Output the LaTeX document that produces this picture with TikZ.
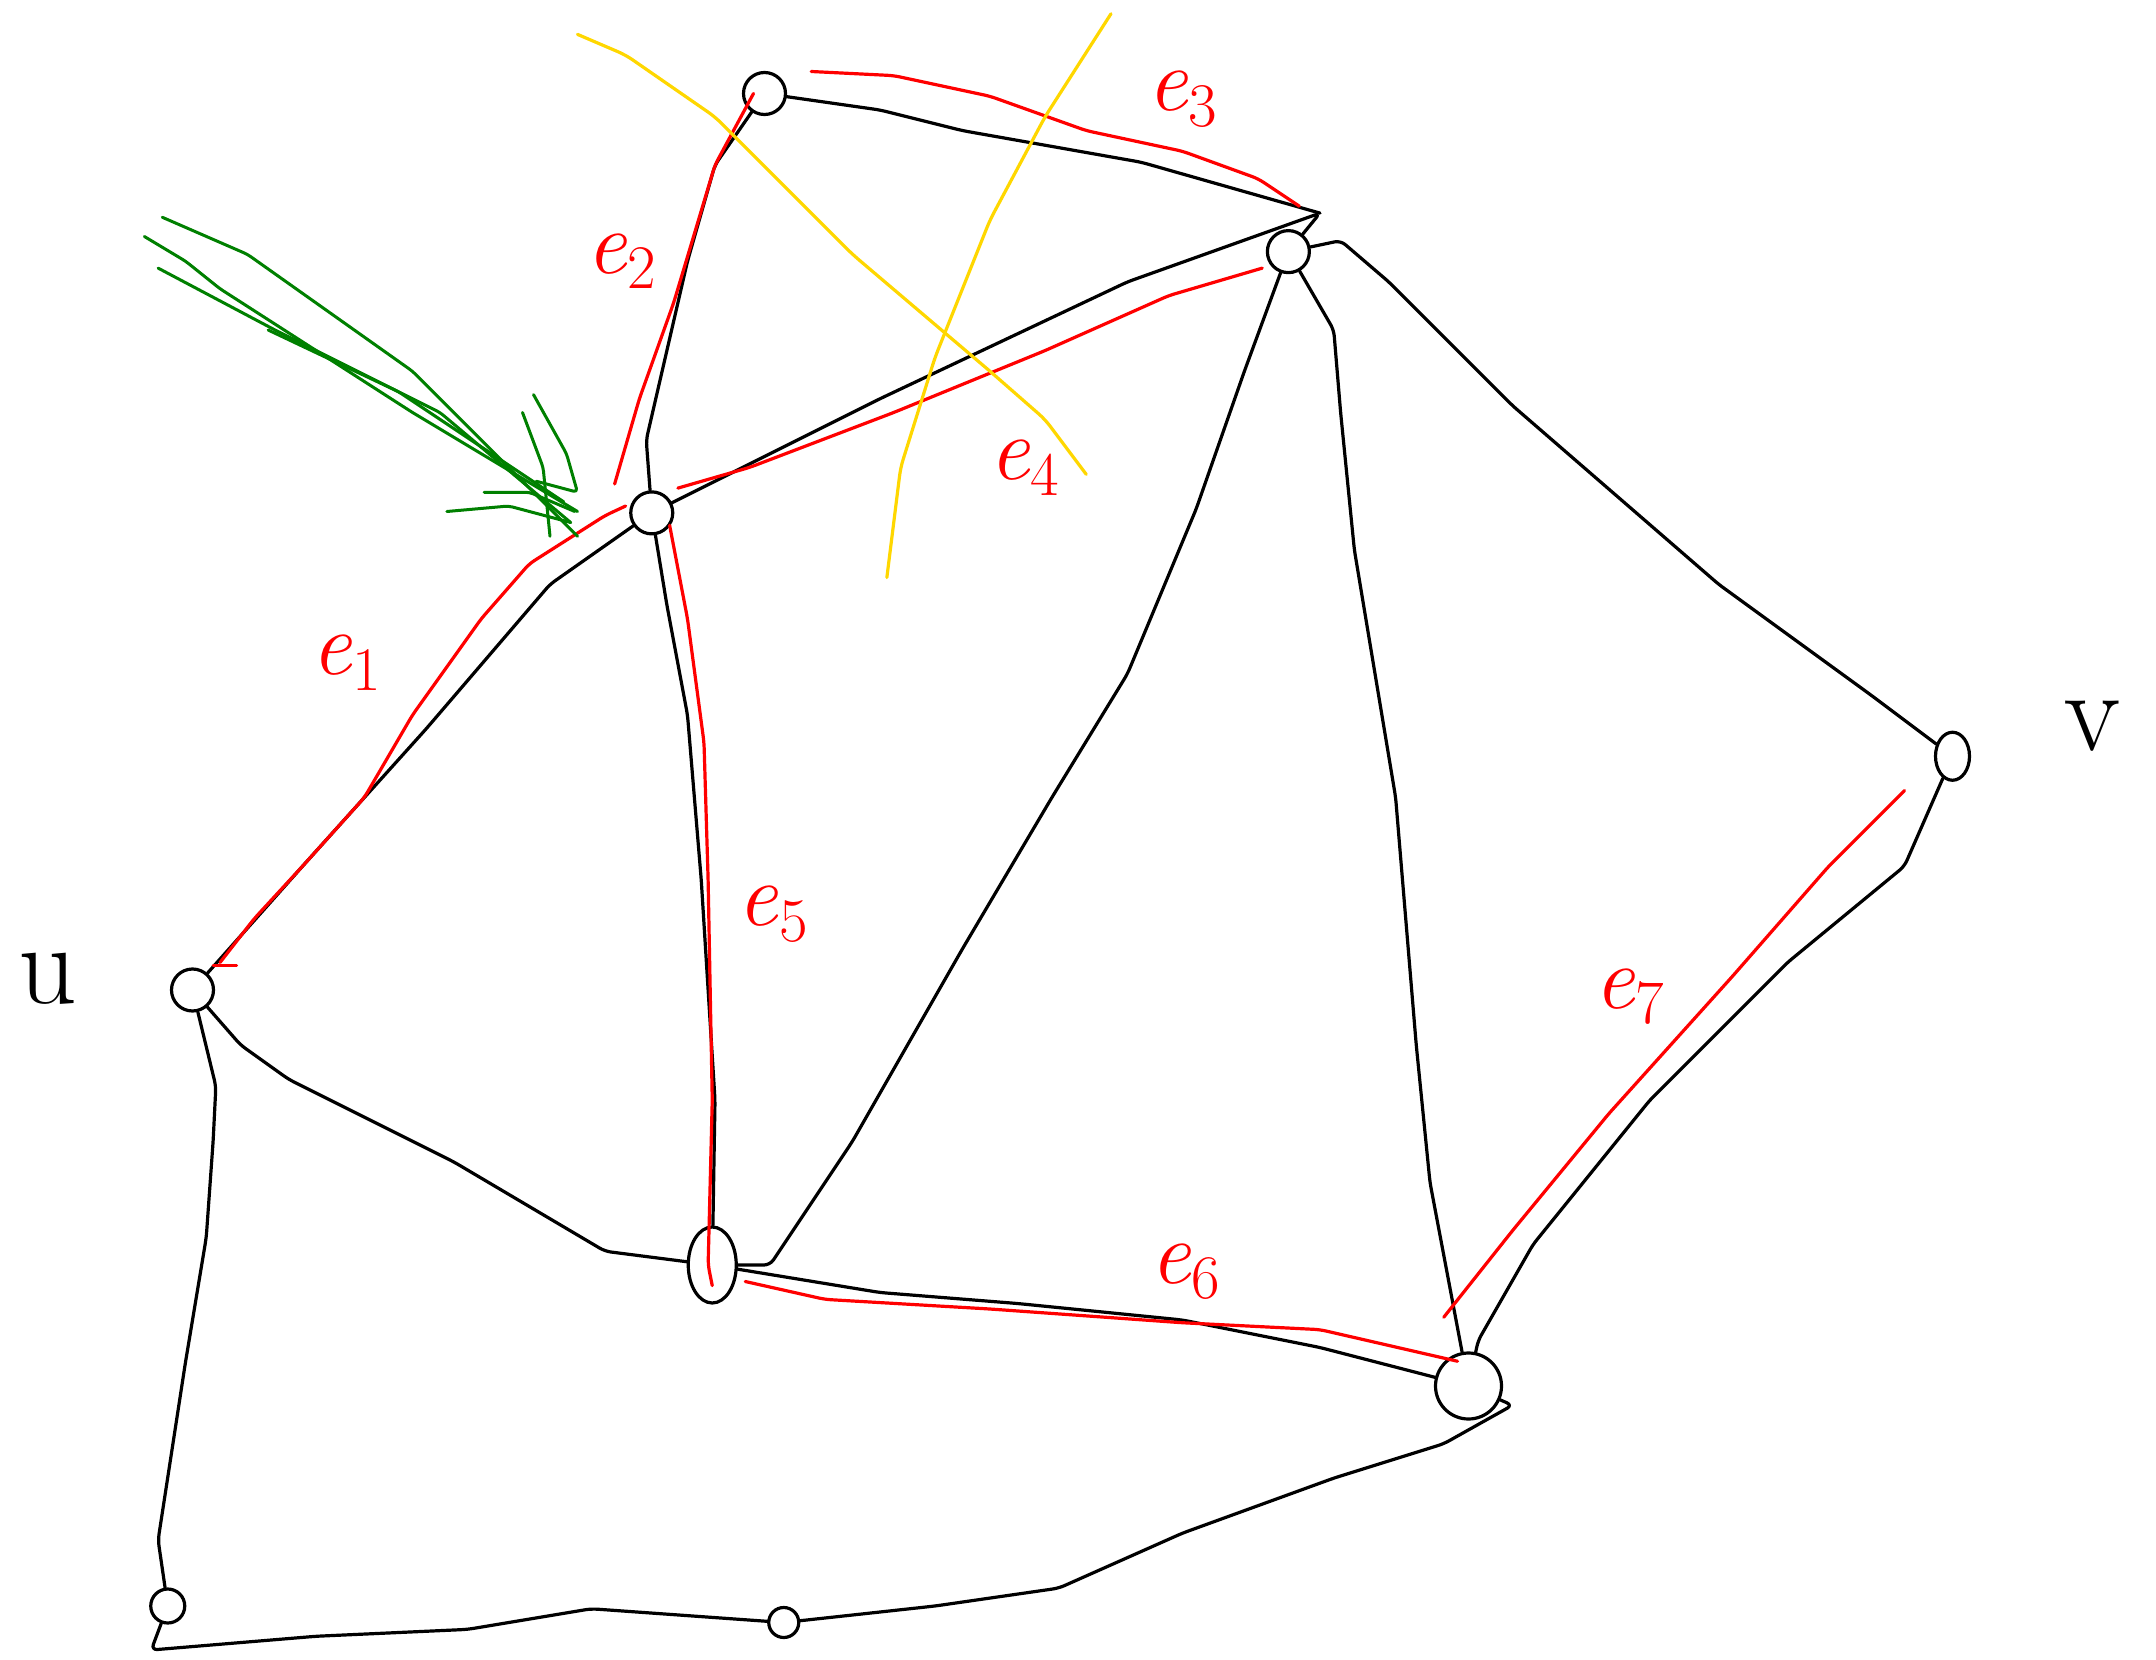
\documentclass[tikz,border=0pt]{standalone}
\usepackage{fontspec}
\usetikzlibrary{shapes.geometric}
\newcommand{\elab}[1]{\textit{e}{\fontsize{62}{62}\selectfont\raisebox{-0.25em}{#1}}}
\begin{document}
\begin{tikzpicture}[x=1.375pt,y=-1.375pt,
  edge/.style={line width=3.2pt,line cap=round,line join=round,rounded corners=6pt},
  redl/.style={line width=3.2pt,red,line cap=round,line join=round,rounded corners=6pt},
  yell/.style={line width=3.2pt,color={rgb,255:red,255;green,215;blue,0},line cap=round,rounded corners=8pt},
  grn/.style={line width=3pt,color={rgb,255:red,0;green,128;blue,0},line cap=round,line join=round,rounded corners=4pt},
  vtx/.style={circle,draw,line width=3.2pt,minimum size=42pt,inner sep=0pt},
  lab/.style={red,font=\fontsize{90}{90}\selectfont},
  nlab/.style={font=\fontsize{115}{115}\selectfont}]
\useasboundingbox (0,0) rectangle (1568,1207);
% vertices
\node[vtx] (u) at (140,720) {};
\node[vtx] (a) at (474,373) {};
\node[vtx] (b) at (556,68) {};
\node[vtx] (c) at (937,183) {};
\node[vtx,ellipse,minimum width=34pt,minimum height=48pt] (v) at (1420,550) {};
\node[vtx,ellipse,minimum width=48pt,minimum height=76pt] (d) at (518,920) {};
\node[vtx,minimum size=66pt] (e) at (1068,1008) {};
\node[vtx,minimum size=34pt] (f) at (122,1168) {};
\node[vtx,minimum size=30pt] (g) at (570,1180) {};
\coordinate (ctip) at (960,155);
% vertex labels
\node[nlab] (ul) at (35,712) {u};
\node[nlab] (vl) at (1522,528) {v};
% black edges
\draw[edge] (u) -- (220,630) -- (310,530) -- (400,425) -- (a);
\draw[edge] (u) -- (175,760) -- (210,785) -- (330,845) -- (440,910) -- (d);
\draw[edge] (u) -- (157,790) -- (155,830) -- (150,900) -- (135,990) -- (115,1120) -- (f);
\draw[edge] (a) -- (470,320) -- (500,190) -- (520,120) -- (b);
\draw[edge] (a) -- (640,290) -- (820,205) -- (ctip) -- (c);
\draw[edge] (b) -- (640,80) -- (700,95) -- (830,118) -- (ctip);
\draw[edge] (a) -- (485,440) -- (500,520) -- (510,640) -- (520,800) -- (d);
\draw[edge] (c) -- (905,270) -- (870,370) -- (820,490) -- (765,580) -- (700,690) -- (620,830) -- (560,920) -- (d);
\draw[edge] (c) -- (970,240) -- (975,300) -- (985,400) -- (1015,580) -- (1030,760) -- (1040,860) -- (e);
\draw[edge] (c) -- (975,175) -- (1010,205) -- (1100,295) -- (1250,425) -- (1360,505) -- (v);
\draw[edge] (v) -- (1385,630) -- (1300,700) -- (1200,800) -- (1115,905) -- (1075,975) -- (e);
\draw[edge] (d) -- (640,940) -- (740,948) -- (860,960) -- (960,980) -- (e);
\draw[edge] (e) -- (1100,1022) -- (1050,1050) -- (970,1075) -- (860,1115) -- (770,1155) -- (680,1168) -- (g);
\draw[edge] (f) -- (110,1200) -- (230,1190) -- (340,1185) -- (430,1170) -- (g);
% red path
\draw[redl] (155,702) -- (172,702);
\draw[redl] (160,700) -- (185,668) -- (220,630) -- (265,580) -- (300,520) -- (350,450) -- (385,410) -- (440,375) -- (455,368);
\draw[redl] (447,352) -- (465,290) -- (490,220) -- (520,120) -- (548,68);
\draw[redl] (590,52) -- (650,55) -- (720,70) -- (790,95) -- (860,110) -- (915,130) -- (945,150);
\draw[redl] (918,195) -- (850,215) -- (760,255) -- (650,300) -- (545,340) -- (493,355);
\draw[redl] (487,382) -- (500,450) -- (512,540) -- (515,640) -- (518,800) -- (515,920) -- (518,935);
\draw[redl] (542,932) -- (600,945) -- (720,952) -- (860,962) -- (960,967) -- (1060,990);
\draw[redl] (1385,575) -- (1330,630) -- (1260,710) -- (1170,810) -- (1100,895) -- (1050,958);
% red labels
\node[lab] (l1) at (252,482) {\elab{1}};
\node[lab] (l2) at (452,190) {\elab{2}};
\node[lab] (l3) at (860,72) {\elab{3}};
\node[lab] (l4) at (745,340) {\elab{4}};
\node[lab] (l5) at (562,665) {\elab{5}};
\node[lab] (l6) at (862,925) {\elab{6}};
\node[lab] (l7) at (1185,725) {\elab{7}};
% yellow cuts
\draw[yell] (420,25) -- (455,40) -- (520,85) -- (620,185) -- (720,270) -- (760,305) -- (790,345);
\draw[yell] (808,10) -- (760,85) -- (720,160) -- (680,260) -- (655,340) -- (645,420);
% green arrow
\draw[grn] (118,158) -- (180,185) -- (300,270) -- (420,390);
\draw[grn] (105,172) -- (135,190) -- (160,210) -- (300,300) -- (420,372);
\draw[grn] (115,195) -- (200,240) -- (320,300) -- (415,380);
\draw[grn] (195,240) -- (290,285) -- (410,365);
\draw[grn] (380,300) -- (395,340) -- (400,390);
\draw[grn] (388,287) -- (412,330) -- (420,358) -- (390,350);
\draw[grn] (325,372) -- (370,368) -- (415,380);
\draw[grn] (352,358) -- (385,358) -- (418,372);
\end{tikzpicture}
\end{document}
